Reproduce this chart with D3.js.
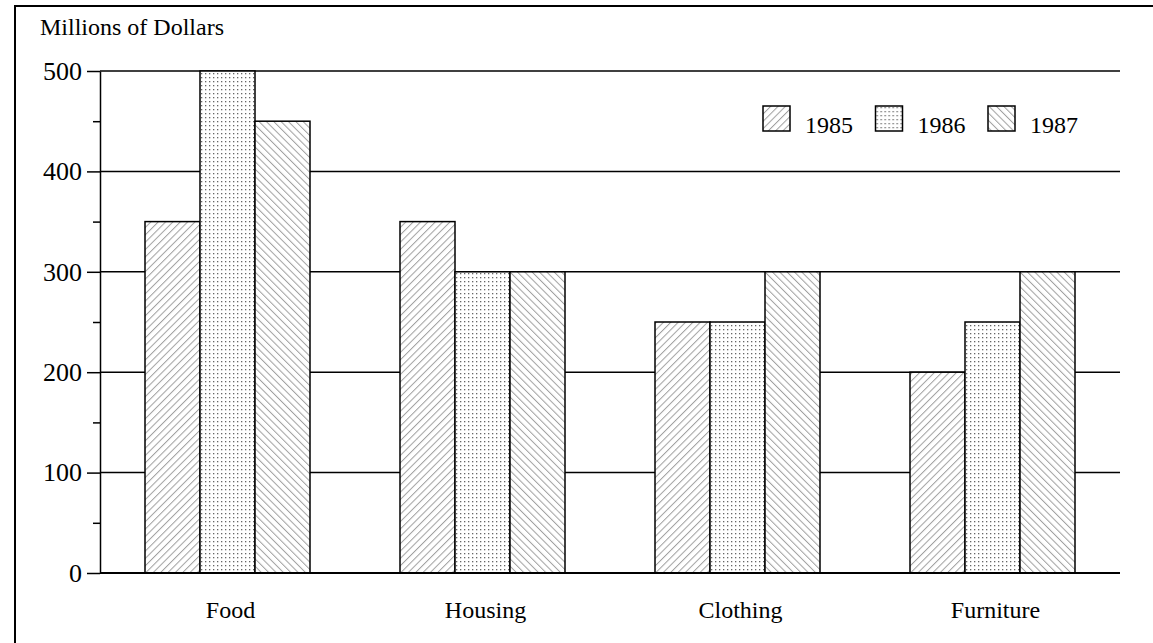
<!DOCTYPE html>
<html>
<head>
<meta charset="utf-8">
<script src="https://cdn.jsdelivr.net/npm/d3@7"></script>
<style>
  html, body { margin: 0; padding: 0; background: #fff; }
  svg { display: block; }
  text { font-family: "Liberation Serif", Tinos, "DejaVu Serif", serif; fill: #000; }
</style>
</head>
<body>
<svg id="chart" width="1153" height="643"></svg>
<script>
const categories = ["Food", "Housing", "Clothing", "Furniture"];
const years = ["1985", "1986", "1987"];
const values1985 = [350, 350, 250, 200];
const values1986 = [500, 300, 250, 250];
const values1987 = [450, 300, 300, 300];
const yTicks = [0, 100, 200, 300, 400, 500];
const yMinorTicks = [50, 150, 250, 350, 450];
const yLabel = "Millions of Dollars";

const FONT = '"Liberation Serif", Tinos, "DejaVu Serif", serif';

const seriesValues = [values1985, values1986, values1987];
const data = categories.map((c, i) => ({
  category: c,
  values: years.map((yr, j) => ({ year: yr, value: seriesValues[j][i] }))
}));

const svg = d3.select("#chart");
const W = 1153, H = 643;
const plotLeft = 100, plotRight = 1120, plotTop = 71, plotBottom = 573;

// Patterns
const defs = svg.append("defs");
function linePattern(id, angle) {
  const p = defs.append("pattern").attr("id", id)
    .attr("patternUnits", "userSpaceOnUse").attr("width", 5.2).attr("height", 10)
    .attr("patternTransform", `rotate(${angle})`);
  p.append("rect").attr("width", 5.2).attr("height", 10).attr("fill", "#fff");
  p.append("line").attr("x1", 0.5).attr("y1", 0).attr("x2", 0.5).attr("y2", 10)
    .attr("stroke", "#a0a0a0").attr("stroke-width", 1);
}
linePattern("p1985", 45);
linePattern("p1987", -45);

const pat86 = defs.append("pattern").attr("id", "p1986")
  .attr("patternUnits", "userSpaceOnUse").attr("width", 4).attr("height", 4);
pat86.append("rect").attr("width", 4).attr("height", 4).attr("fill", "#fff");
pat86.append("rect").attr("x", 1).attr("y", 1).attr("width", 1.3).attr("height", 1.3).attr("fill", "#666");

const fills = { "1985": "url(#p1985)", "1986": "url(#p1986)", "1987": "url(#p1987)" };

// Frame
svg.append("path")
  .attr("d", `M15,${H} V6 H${W}`)
  .attr("fill", "none").attr("stroke", "#000").attr("stroke-width", 2);

// Scales
const x0 = d3.scaleBand().domain(categories).range([plotLeft, plotRight]);
const x1 = d3.scaleBand().domain(years).range([45, 210]);
const y = d3.scaleLinear().domain([0, 500]).range([plotBottom, plotTop]);

// Gridlines
svg.append("g").selectAll("line").data(yTicks).join("line")
  .attr("x1", plotLeft).attr("x2", plotRight)
  .attr("y1", d => y(d)).attr("y2", d => y(d))
  .attr("stroke", "#000").attr("stroke-width", 1.5);

// Y axis
const yAxis = svg.append("g").attr("transform", `translate(${plotLeft},0)`)
  .call(d3.axisLeft(y).tickValues(yTicks).tickSize(13).tickSizeOuter(0).tickPadding(5));
yAxis.attr("font-family", null);
yAxis.select(".domain").attr("stroke", "#000").attr("stroke-width", 1.5);
yAxis.selectAll(".tick line").attr("stroke", "#000").attr("stroke-width", 1.5);
yAxis.selectAll(".tick text")
  .style("font-family", FONT)
  .attr("font-size", 26).attr("fill", "#000");

const yMinor = svg.append("g").attr("transform", `translate(${plotLeft},0)`)
  .call(d3.axisLeft(y).tickValues(yMinorTicks).tickSize(7).tickSizeOuter(0).tickFormat(""));
yMinor.select(".domain").remove();
yMinor.selectAll(".tick line").attr("stroke", "#000").attr("stroke-width", 1.5);

// Bars
const groups = svg.append("g").selectAll("g").data(data).join("g")
  .attr("transform", d => `translate(${x0(d.category)},0)`);
groups.selectAll("rect").data(d => d.values).join("rect")
  .attr("x", d => x1(d.year))
  .attr("width", x1.bandwidth())
  .attr("y", d => y(d.value))
  .attr("height", d => y(0) - y(d.value))
  .attr("fill", d => fills[d.year])
  .attr("stroke", "#000").attr("stroke-width", 1.5);

// Zero baseline on top
svg.append("line")
  .attr("x1", plotLeft).attr("x2", plotRight)
  .attr("y1", y(0)).attr("y2", y(0))
  .attr("stroke", "#000").attr("stroke-width", 2);

// Category labels
const xAxis = svg.append("g").attr("transform", `translate(0,${plotBottom})`)
  .call(d3.axisBottom(x0).tickSize(0).tickPadding(28));
xAxis.attr("font-family", null);
xAxis.select(".domain").remove();
xAxis.selectAll(".tick text")
  .style("font-family", FONT)
  .attr("font-size", 24).attr("fill", "#000").attr("dx", 3);

// Y label
svg.append("text").attr("x", 40).attr("y", 35)
  .style("font-family", FONT)
  .attr("font-size", 24).text(yLabel);

// Legend
const legend = svg.append("g").selectAll("g").data(years).join("g")
  .attr("transform", (d, i) => `translate(${763 + i * 112.5},106)`);
legend.append("rect").attr("width", 27).attr("height", 25)
  .attr("fill", d => fills[d]).attr("stroke", "#000").attr("stroke-width", 1.5);
legend.append("text").attr("x", 42).attr("y", 27)
  .style("font-family", FONT)
  .attr("font-size", 24).text(d => d);
</script>
</body>
</html>
